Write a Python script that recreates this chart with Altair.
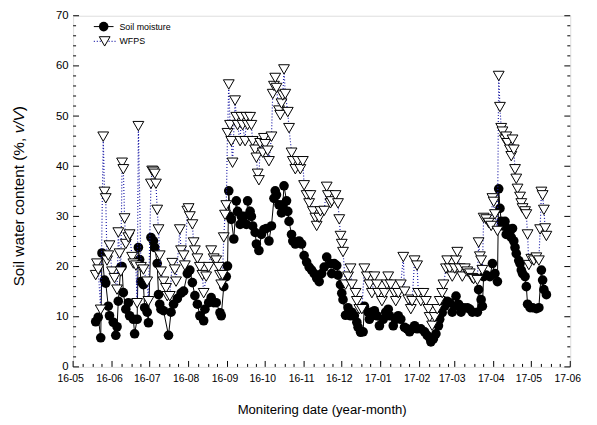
import altair as alt
import pandas as pd

START = pd.Timestamp("2016-05-01")
END = pd.Timestamp("2017-06-01")

# Soil moisture: day offset from 2016-05-01 and value (%, v/V)
sm_day = [18, 20, 22, 23, 25, 26, 28, 29, 32, 34,
          35, 36, 38, 39, 40, 42, 44, 45, 48, 49,
          51, 52, 53, 54, 56, 57, 59, 60, 62, 64,
          65, 67, 68, 69, 70, 72, 76, 78, 80, 83,
          86, 88, 91, 93, 95, 97, 99, 101, 104, 105,
          108, 110, 112, 114, 117, 118, 120, 122, 123, 124,
          125, 126, 128, 130, 131, 133, 134, 136, 138, 139,
          141, 142, 143, 145, 146, 148, 150, 152, 154, 156,
          158, 160, 161, 162, 164, 166, 167, 168, 170, 171,
          172, 174, 175, 177, 180, 182, 184, 186, 188, 190,
          192, 194, 196, 198, 200, 202, 205, 206, 208, 210,
          211, 213, 214, 215, 217, 219, 221, 222, 224, 226,
          227, 229, 231, 232, 235, 236, 238, 240, 242, 244,
          247, 249, 251, 252, 255, 257, 259, 261, 264, 266,
          268, 270, 272, 274, 277, 280, 282, 284, 285, 287,
          289, 291, 292, 294, 296, 298, 300, 302, 304, 305,
          307, 309, 311, 314, 316, 318, 322, 323, 325, 326,
          327, 329, 332, 334, 336, 338, 339, 340, 341, 342,
          344, 345, 346, 348, 349, 350, 351, 352, 353, 355,
          356, 357, 358, 360, 361, 362, 364, 366, 369, 371,
          373, 374, 375, 377]
sm_val = [9.0, 9.9, 5.8, 22.7, 17.3, 16.7, 12.1, 10.2, 8.9, 6.3,
          8.0, 13.1, 19.9, 20.0, 14.8, 11.5, 12.8, 10.2, 9.5, 6.6,
          9.5, 23.8, 21.4, 17.0, 16.4, 11.8, 10.9, 8.8, 25.8, 25.1,
          23.8, 20.6, 14.4, 12.5, 11.5, 11.2, 6.3, 10.9, 12.5, 13.6,
          14.7, 15.1, 18.6, 19.3, 16.8, 14.2, 12.5, 10.2, 9.2, 11.5,
          12.8, 13.8, 12.8, 12.8, 10.8, 10.2, 16.0, 18.0, 20.1, 35.1,
          30.0, 29.4, 25.5, 33.1, 31.0, 28.4, 30.0, 30.0, 28.4, 33.1,
          31.0, 30.0, 28.1, 26.8, 24.5, 23.2, 26.4, 27.4, 27.6, 25.1,
          28.1, 33.6, 35.1, 34.3, 32.3, 30.7, 32.3, 36.1, 33.1, 31.0,
          29.0, 26.4, 25.1, 24.5, 25.1, 24.5, 22.2, 20.9, 19.9, 19.3,
          18.6, 17.7, 17.0, 18.6, 19.9, 21.9, 20.6, 18.6, 20.6, 20.2,
          18.3, 16.4, 14.7, 13.4, 10.3, 11.8, 10.2, 10.9, 10.2, 8.9,
          7.9, 6.9, 7.0, 12.1, 10.9, 9.5, 10.9, 11.2, 10.2, 8.2,
          9.5, 10.9, 11.5, 10.2, 8.2, 9.5, 10.2, 9.5, 7.9, 7.6,
          7.0, 7.6, 8.2, 7.6, 7.6, 7.0, 6.3, 5.8, 5.0, 5.6,
          6.6, 8.2, 9.5, 10.8, 12.1, 13.1, 12.8, 10.9, 12.1, 14.1,
          12.5, 10.9, 11.8, 11.8, 11.5, 10.9, 10.9, 15.4, 13.4, 12.1,
          18.0, 18.3, 18.0, 20.6, 18.6, 17.0, 35.5, 31.6, 29.0, 28.1,
          29.0, 26.4, 27.6, 27.0, 25.8, 27.6, 25.1, 23.8, 22.6, 21.2,
          20.6, 19.3, 18.6, 18.0, 16.0, 12.5, 11.8, 11.8, 11.6, 11.8,
          19.3, 17.3, 15.4, 14.4]

# WFPS: day offset from 2016-05-01 and value (%)
wfps_day = [18, 19, 20, 22, 24, 25, 26, 27, 28, 29,
            31, 33, 35, 36, 37, 38, 39, 40, 41, 42,
            44, 45, 47, 48, 50, 51, 52, 54, 56, 59,
            60, 62, 63, 64, 65, 66, 67, 68, 69, 70,
            72, 74, 75, 77, 79, 81, 82, 85, 86, 88,
            89, 91, 92, 93, 95, 96, 97, 99, 101, 103,
            104, 106, 108, 110, 112, 114, 116, 117, 118, 119,
            120, 121, 122, 123, 124, 125, 126, 127, 129, 130,
            131, 133, 134, 135, 137, 138, 139, 141, 142, 143,
            145, 146, 147, 148, 149, 151, 152, 153, 155, 156,
            158, 159, 160, 161, 162, 164, 165, 166, 167, 168,
            169, 171, 172, 174, 175, 177, 179, 181, 183, 184,
            186, 188, 189, 191, 193, 194, 196, 197, 200, 202,
            203, 205, 206, 209, 211, 212, 213, 214, 215, 217,
            219, 221, 222, 225, 226, 228, 230, 232, 234, 236,
            238, 240, 242, 243, 246, 248, 250, 251, 253, 256,
            257, 259, 261, 263, 264, 267, 269, 270, 272, 274,
            275, 277, 279, 281, 283, 284, 286, 288, 290, 292,
            294, 295, 297, 298, 300, 302, 304, 305, 306, 308,
            310, 312, 314, 316, 318, 319, 322, 323, 324, 325,
            326, 327, 329, 331, 333, 334, 335, 336, 338, 339,
            340, 341, 342, 344, 345, 346, 348, 349, 350, 351,
            352, 353, 354, 356, 357, 358, 360, 361, 362, 363,
            365, 367, 369, 371, 372, 373, 374, 375, 376, 377]
wfps_val = [18.3, 20.6, 19.4, 11.4, 45.9, 34.9, 33.6, 21.2, 22.2, 24.2,
            19.0, 17.7, 15.4, 26.8, 22.6, 19.0, 40.7, 39.4, 29.6, 24.5,
            25.8, 26.4, 21.9, 20.6, 20.2, 12.7, 48.0, 19.9, 19.4, 17.0,
            13.1, 36.5, 39.1, 38.9, 38.5, 36.5, 31.3, 27.4, 22.2, 19.0,
            17.0, 15.7, 14.1, 14.1, 20.7, 19.4, 17.0, 27.4, 23.2, 22.2,
            20.2, 31.1, 31.6, 30.0, 28.4, 24.8, 23.2, 21.6, 19.9, 18.3,
            14.7, 18.0, 19.9, 23.2, 21.6, 21.2, 19.9, 18.3, 16.4, 18.3,
            25.8, 30.3, 32.2, 46.6, 56.3, 48.2, 45.0, 40.7, 53.1, 49.8,
            48.2, 45.0, 49.8, 48.2, 45.0, 49.8, 48.2, 49.8, 48.2, 45.0,
            43.3, 41.7, 38.5, 37.2, 44.6, 42.7, 45.6, 44.4, 43.1, 41.0,
            45.9, 54.4, 56.0, 57.6, 55.6, 51.1, 50.2, 52.5, 54.1, 59.3,
            54.4, 50.8, 47.6, 42.7, 41.0, 39.4, 41.0, 39.4, 41.0, 36.2,
            34.2, 32.6, 34.2, 31.0, 29.7, 28.1, 29.7, 31.0, 31.1, 35.9,
            34.2, 32.6, 33.0, 34.2, 32.6, 29.4, 26.1, 24.5, 22.9, 16.4,
            18.0, 19.6, 16.4, 14.7, 13.1, 11.5, 11.5, 19.6, 18.0, 16.4,
            14.7, 18.0, 16.4, 14.7, 13.1, 14.7, 16.4, 18.0, 16.4, 14.7,
            13.1, 14.7, 16.4, 21.9, 15.0, 13.4, 11.5, 13.1, 21.2, 20.2,
            14.7, 13.1, 14.7, 13.1, 11.5, 9.9, 8.2, 9.9, 11.5, 13.1,
            14.7, 16.4, 19.6, 21.2, 19.6, 18.0, 19.6, 21.2, 22.9, 19.6,
            18.0, 19.6, 19.0, 18.6, 17.7, 17.5, 17.3, 24.8, 22.0, 21.2,
            19.3, 29.7, 29.4, 28.7, 28.1, 33.6, 32.9, 30.4, 27.1, 58.0,
            51.8, 47.6, 46.9, 45.3, 45.9, 44.6, 43.3, 42.0, 45.3, 43.3,
            39.4, 37.5, 35.5, 33.9, 32.6, 31.6, 31.0, 30.4, 26.4, 20.3,
            21.5, 21.2, 21.8, 21.2, 27.4, 34.9, 34.2, 31.3, 27.6, 26.1]

month_ticks = pd.date_range("2016-05-01", "2017-06-01", freq="MS")
y_major = list(range(0, 71, 10))
y_minor = [v for v in range(0, 71, 2) if v % 10]
minor_days = [8, 16, 23]

W, H = 504, 356
FONT = "Liberation Sans"
X_TITLE = "Monitering date (year-month)"
# y title pieces (the "v/V" part is italic)
Y_TITLE_PARTS = ["Soil water content (%,", "v/V", ")"]
YT_SIZE = 15.5


def dt(t):
    t = pd.Timestamp(t)
    return alt.DateTime(year=t.year, month=t.month, date=t.day)


sm = pd.DataFrame({"date": START + pd.to_timedelta(sm_day, unit="D"),
                   "value": sm_val, "order": range(len(sm_day))})
wf = pd.DataFrame({"date": START + pd.to_timedelta(wfps_day, unit="D"),
                   "value": wfps_val, "order": range(len(wfps_day))})

xscale = alt.Scale(domain=[dt(START), dt(END)])
yscale = alt.Scale(domain=[0, 70], nice=False)

x_axis = alt.Axis(values=[dt(m) for m in month_ticks], format="%y-%m",
                  ticks=False, domain=False, grid=False,
                  labelFont=FONT, labelFontSize=10.5, labelColor="black",
                  labelPadding=7, labelFlush=False, labelOverlap=False,
                  labelOffset=-3,
                  titleFont=FONT, titleFontSize=13.3, titleFontWeight="normal",
                  titleColor="black", titlePadding=19)
y_axis = alt.Axis(values=y_major, ticks=False, domain=False, grid=False,
                  labelFont=FONT, labelFontSize=11.5, labelColor="black",
                  labelPadding=5)


def X(field):
    return alt.X(field, type="temporal", scale=xscale, axis=x_axis, title=X_TITLE)


def Y(field):
    return alt.Y(field, type="quantitative", scale=yscale, axis=y_axis, title="")


sm_line = alt.Chart(sm).mark_line(color="black", strokeWidth=1).encode(
    x=X("date"), y=Y("value"), order="order:Q")
sm_pts = alt.Chart(sm).mark_point(shape="circle", filled=True, color="black",
                                  size=95, opacity=1).encode(x=X("date"), y=Y("value"))
wf_line = alt.Chart(wf).mark_line(color="#1a1aa6", strokeWidth=1.2,
                                  strokeDash=[1, 2]).encode(
    x=X("date"), y=Y("value"), order="order:Q")
wf_pts = alt.Chart(wf).mark_point(shape="triangle-down", filled=True, fill="white",
                                  stroke="black", strokeWidth=1, size=120,
                                  opacity=1).encode(x=X("date"), y=Y("value"))

# inward ticks
ymaj = pd.DataFrame({"value": y_major})
ymin = pd.DataFrame({"value": y_minor})
ticks_l_maj = alt.Chart(ymaj).mark_rule(color="black").encode(
    y=Y("value"), x=alt.value(0), x2=alt.value(6))
ticks_l_min = alt.Chart(ymin).mark_rule(color="black").encode(
    y=Y("value"), x=alt.value(0), x2=alt.value(3))
ticks_r_maj = alt.Chart(ymaj).mark_rule(color="black").encode(
    y=Y("value"), x=alt.value(W - 6), x2=alt.value(W))
ticks_r_min = alt.Chart(ymin).mark_rule(color="black").encode(
    y=Y("value"), x=alt.value(W - 3), x2=alt.value(W))

xmaj = pd.DataFrame({"date": month_ticks})
xmin = pd.DataFrame({"date": [m + pd.Timedelta(days=k) for m in month_ticks[:-1] for k in minor_days]})
ticks_b_maj = alt.Chart(xmaj).mark_rule(color="black").encode(
    x=X("date"), y=alt.value(H - 6), y2=alt.value(H))
ticks_b_min = alt.Chart(xmin).mark_rule(color="black").encode(
    x=X("date"), y=alt.value(H - 3), y2=alt.value(H))

one = pd.DataFrame({"k": [0]})

# y-axis title built from pieces (Arial/Liberation metrics, em units)
w1 = 9.726 * YT_SIZE          # "Soil water content (%,"
w_sp = 0.278 * YT_SIZE        # space
w2 = 1.445 * YT_SIZE          # "v/V"
w3 = 0.333 * YT_SIZE          # ")"
total = w1 + w_sp + w2 + w3
yt_center = 183               # plot-relative
y_start = yt_center + total / 2
yt_x = -55
yt_positions = [y_start, y_start - w1 - w_sp, y_start - w1 - w_sp - w2]
yt_styles = ["normal", "italic", "normal"]
yt_layers = [
    alt.Chart(one).mark_text(align="left", baseline="middle", angle=270, font=FONT,
                             fontSize=YT_SIZE, fontStyle=st, color="black").encode(
        x=alt.value(yt_x), y=alt.value(pos), text=alt.value(txt))
    for txt, pos, st in zip(Y_TITLE_PARTS, yt_positions, yt_styles)
]

# legend
lg_sm_line = alt.Chart(one).mark_rule(color="black").encode(
    x=alt.value(21), x2=alt.value(41), y=alt.value(11))
lg_sm_pt = alt.Chart(one).mark_point(shape="circle", filled=True, color="black",
                                     size=95, opacity=1).encode(x=alt.value(31), y=alt.value(11))
lg_sm_txt = alt.Chart(one).mark_text(align="left", baseline="middle", font=FONT,
                                     fontSize=9, color="black").encode(
    x=alt.value(47), y=alt.value(11), text=alt.value("Soil moisture"))
lg_wf_line = alt.Chart(one).mark_rule(color="#1a1aa6", strokeDash=[1, 2],
                                      strokeWidth=1.2).encode(
    x=alt.value(21), x2=alt.value(43), y=alt.value(26))
lg_wf_pt = alt.Chart(one).mark_point(shape="triangle-down", filled=True, fill="white",
                                     stroke="black", strokeWidth=1, size=120,
                                     opacity=1).encode(x=alt.value(32), y=alt.value(26))
lg_wf_txt = alt.Chart(one).mark_text(align="left", baseline="middle", font=FONT,
                                     fontSize=9, color="black").encode(
    x=alt.value(47), y=alt.value(26), text=alt.value("WFPS"))

chart = alt.layer(
    sm_line, sm_pts, wf_line, wf_pts,
    ticks_l_maj, ticks_l_min, ticks_r_maj, ticks_r_min, ticks_b_maj, ticks_b_min,
    lg_sm_line, lg_sm_pt, lg_sm_txt, lg_wf_line, lg_wf_pt, lg_wf_txt,
    *yt_layers,
).properties(
    width=W, height=H,
    autosize=alt.AutoSizeParams(type="none"),
    padding={"left": 66, "top": 5, "right": 19, "bottom": 52},
).configure_view(stroke="black", strokeWidth=1).configure(background="white")

chart.save("out.html", embed_options={"renderer": "svg", "actions": False})
